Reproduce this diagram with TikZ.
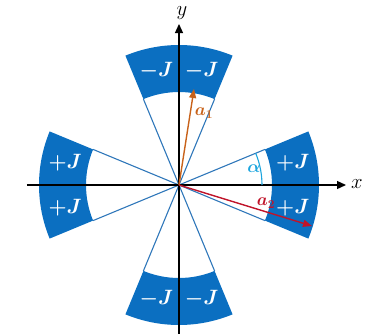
\documentclass[tikz,border=0pt]{standalone}
\usepackage{amsmath,bm}
\usetikzlibrary{arrows.meta}
\definecolor{sectorblue}{HTML}{0B6FC1}
\definecolor{lineblue}{HTML}{2F77BA}
\definecolor{alphacyan}{HTML}{1CA5DE}
\definecolor{aone}{HTML}{C8621A}
\definecolor{atwo}{HTML}{C0142A}
\tikzset{
  sector/.style={fill=sectorblue, draw=none},
  radial/.style={draw=lineblue, line width=1.1pt},
  axis/.style={draw=black, line width=1.3pt, -{Triangle[length=9pt,width=8pt]}},
  jlab/.style={text=white, font=\fontsize{20}{22}\selectfont\boldmath, inner sep=0pt},
  axlab/.style={font=\fontsize{21}{22}\selectfont, inner sep=0pt},
  vec/.style={line width=1.4pt, -{Triangle[length=9pt,width=7pt]}},
}
\begin{document}
\begin{tikzpicture}[x=1pt,y=1pt]
\useasboundingbox (-179,-148) rectangle (187,185);
\def\rin{93}
\def\rout{140}
\def\ha{22.5}
% sectors
\foreach \c in {0,90,180,270}{
  \fill[sector] (\c-\ha:\rin) arc[start angle=\c-\ha, end angle=\c+\ha, radius=\rin]
     -- (\c+\ha:\rout) arc[start angle=\c+\ha, end angle=\c-\ha, radius=\rout] -- cycle;
}
\coordinate (O) at (0,0);
\foreach \c in {0,90,180,270}{
  \draw[radial] (O) -- (\c-\ha:\rin);
  \draw[radial] (O) -- (\c+\ha:\rin);
}
% labels in sectors
\node[jlab] (r1) at (11.25:116) {$+J$};
\node[jlab] (r2) at (-11.25:116) {$+J$};
\node[jlab] (l1) at (168.75:116) {$+J$};
\node[jlab] (l2) at (191.25:116) {$+J$};
\node[jlab] (t1) at (101.25:116) {$-J$};
\node[jlab] (t2) at (78.75:116) {$-J$};
\node[jlab] (b1) at (258.75:116) {$-J$};
\node[jlab] (b2) at (281.25:116) {$-J$};
% axes
\coordinate (xs) at (-152,0);
\coordinate (xe) at (167,0);
\coordinate (ys) at (0,-150);
\coordinate (ye) at (0,161);
\draw[axis] (xs) -- (xe);
\draw[axis] (ys) -- (ye);
\node[axlab] (xl) at (178,1) {$x$};
\node[axlab] (yl) at (3,172) {$y$};
% alpha arc
\draw[alphacyan, line width=1.1pt] (83,0) arc[start angle=0, end angle=\ha, radius=83];
\node[text=alphacyan, font=\fontsize{18}{20}\selectfont, inner sep=0pt] (al) at (75,16) {$\bm{\alpha}$};
% vectors
\coordinate (a1e) at (15,96);
\coordinate (a2e) at (133,-41);
\draw[vec, aone] (O) -- (a1e);
\draw[vec, atwo] (O) -- (a2e);
\node[text=aone, font=\fontsize{17}{18}\selectfont, inner sep=0pt] (a1l) at (25,72) {$\bm{a}_{\bm{1}}$};
\node[text=atwo, font=\fontsize{17}{18}\selectfont, inner sep=0pt] (a2l) at (87,-18) {$\bm{a}_{\bm{2}}$};
\end{tikzpicture}
\end{document}
